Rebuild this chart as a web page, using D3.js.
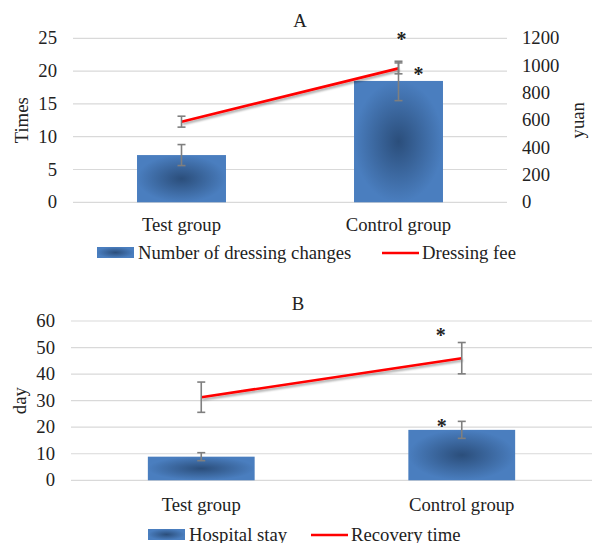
<!DOCTYPE html>
<html lang="en">
<head>
<meta charset="UTF-8">
<script src="https://cdn.jsdelivr.net/npm/d3@7"></script>
<title>Dressing and recovery</title>
<style>
    body { margin:0; background:#fff; }
    svg text { font-family:"Liberation Serif","Times New Roman",serif; fill:#222; }
</style>
</head>
<body>
<script>
// data
const categories = ["Test group", "Control group"];
const dressingChanges = [7.2, 18.5];
const dressingChangesErr = [1.6, 3.0];
const dressingFee = [590, 980];
const dressingFeeErr = [40, 40];
const hospitalStay = [8.9, 19];
const hospitalStayErr = [1.5, 3.2];
const recoveryTime = [31.3, 46];
const recoveryTimeErr = [5.7, 5.9];
const ticksTimes = [0, 5, 10, 15, 20, 25];
const ticksYuan = [0, 200, 400, 600, 800, 1000, 1200];
const ticksDay = [0, 10, 20, 30, 40, 50, 60];

const fs = 18.7;

const svg = d3.select("body").append("svg")
    .attr("width", 592).attr("height", 543);

const defs = svg.append("defs");
const grad = defs.append("radialGradient").attr("id", "barGrad");
grad.append("stop").attr("offset", "0%").attr("stop-color", "#2b4e7b");
grad.append("stop").attr("offset", "100%").attr("stop-color", "#4a7ebf");
const shadow = defs.append("filter").attr("id", "lineShadow")
    .attr("x", "-10%").attr("y", "-50%").attr("width", "120%").attr("height", "200%");
shadow.append("feDropShadow").attr("dx", 1).attr("dy", 2)
    .attr("stdDeviation", 1.2).attr("flood-color", "#000").attr("flood-opacity", 0.35);

function panel(o) {
    const g = svg.append("g");
    const x = d3.scaleBand().domain(categories).range([o.x0, o.x1]);
    const y = d3.scaleLinear().domain([0, d3.max(o.ticks)]).range([o.yBottom, o.yTop]);
    const y2 = o.ticks2 ? d3.scaleLinear().domain([0, d3.max(o.ticks2)]).range([o.yBottom, o.yTop]) : y;

    // gridlines
    g.selectAll(".grid").data(o.ticks).enter().append("line")
        .attr("x1", o.x0).attr("x2", o.x1)
        .attr("y1", d => y(d)).attr("y2", d => y(d))
        .attr("stroke", "#d9d9d9").attr("stroke-width", 1.2);

    // left ticks
    g.selectAll(".tl").data(o.ticks).enter().append("text")
        .attr("x", o.x0 - 16).attr("y", d => y(d) + 6)
        .attr("text-anchor", "end").attr("font-size", fs).text(d => d);

    if (o.ticks2) {
        g.selectAll(".tr").data(o.ticks2).enter().append("text")
            .attr("x", o.x1 + 15).attr("y", d => y2(d) + 6)
            .attr("font-size", fs).text(d => d);
        g.append("text").attr("transform", `translate(${o.label2X},${(o.yTop + o.yBottom) / 2}) rotate(-90)`)
            .attr("text-anchor", "middle").attr("font-size", fs).text(o.label2);
    }

    g.append("text").attr("transform", `translate(${o.labelX},${(o.yTop + o.yBottom) / 2}) rotate(-90)`)
        .attr("text-anchor", "middle").attr("font-size", fs).text(o.label);

    g.append("text").attr("x", o.titleX).attr("y", o.titleY)
        .attr("text-anchor", "middle").attr("font-size", fs).text(o.title);

    // bars
    const bw = x.bandwidth() * 0.41;
    const cx = d => x(d) + x.bandwidth() / 2;
    g.selectAll(".bar").data(categories).enter().append("rect")
        .attr("x", d => cx(d) - bw / 2).attr("width", bw)
        .attr("y", (d, i) => y(o.bars[i]))
        .attr("height", (d, i) => y(0) - y(o.bars[i]))
        .attr("fill", "url(#barGrad)");

    // line
    const line = d3.line().x(d => cx(d)).y((d, i) => y2(o.line[i]));
    g.append("path").datum(categories).attr("d", line)
        .attr("fill", "none").attr("stroke", "#ff0000").attr("stroke-width", 2.6)
        .attr("filter", "url(#lineShadow)");

    // error bars
    function errs(vals, err, sc) {
        categories.forEach((c, i) => {
            const xx = cx(c), hi = sc(vals[i] + err[i]), lo = sc(vals[i] - err[i]);
            g.append("line").attr("x1", xx).attr("x2", xx).attr("y1", hi).attr("y2", lo)
                .attr("stroke", "#7f7f7f").attr("stroke-width", 1.6);
            [hi, lo].forEach(v => g.append("line").attr("x1", xx - 4).attr("x2", xx + 4)
                .attr("y1", v).attr("y2", v).attr("stroke", "#7f7f7f").attr("stroke-width", 1.6));
        });
    }
    errs(o.bars, o.barsErr, y);
    errs(o.line, o.lineErr, y2);

    // significance marks
    o.stars.forEach(s => {
        g.append("text").attr("x", cx(categories[1]) + s.dx).attr("y", s.y + 9)
            .attr("text-anchor", "middle").attr("font-size", 20).attr("font-weight", "bold")
            .text("*");
    });

    // category labels
    g.selectAll(".cat").data(categories).enter().append("text")
        .attr("x", d => cx(d)).attr("y", o.catY)
        .attr("text-anchor", "middle").attr("font-size", fs).text(d => d);

    // legend
    const lg = g.append("g");
    lg.append("rect").attr("x", o.leg.x).attr("y", o.leg.y - 6).attr("width", 37).attr("height", 11)
        .attr("fill", "url(#barGrad)");
    lg.append("text").attr("x", o.leg.x + 41).attr("y", o.leg.y + 6).attr("font-size", fs).text(o.leg.bar);
    lg.append("line").attr("x1", o.leg.x2).attr("x2", o.leg.x2 + 37)
        .attr("y1", o.leg.y).attr("y2", o.leg.y).attr("stroke", "#ff0000").attr("stroke-width", 2.6);
    lg.append("text").attr("x", o.leg.x2 + 40).attr("y", o.leg.y + 6).attr("font-size", fs).text(o.leg.line);
}

panel({
    title: "A", titleX: 300, titleY: 27,
    x0: 73, x1: 507, yTop: 38.3, yBottom: 202.3,
    ticks: ticksTimes, ticks2: ticksYuan,
    label: "Times", labelX: 28, label2: "yuan", label2X: 584,
    bars: dressingChanges, barsErr: dressingChangesErr,
    line: dressingFee, lineErr: dressingFeeErr,
    stars: [{dx: 3, y: 37}, {dx: 20, y: 72}],
    catY: 231,
    leg: {x: 97, y: 253, bar: "Number of dressing changes", x2: 382, line: "Dressing fee"}
});

panel({
    title: "B", titleX: 298, titleY: 310,
    x0: 71, x1: 592, yTop: 321, yBottom: 480.3,
    ticks: ticksDay,
    label: "day", labelX: 26,
    bars: hospitalStay, barsErr: hospitalStayErr,
    line: recoveryTime, lineErr: recoveryTimeErr,
    stars: [{dx: -21, y: 333}, {dx: -20, y: 424}],
    catY: 511,
    leg: {x: 148, y: 535, bar: "Hospital stay", x2: 311, line: "Recovery time"}
});
</script>
</body>
</html>
